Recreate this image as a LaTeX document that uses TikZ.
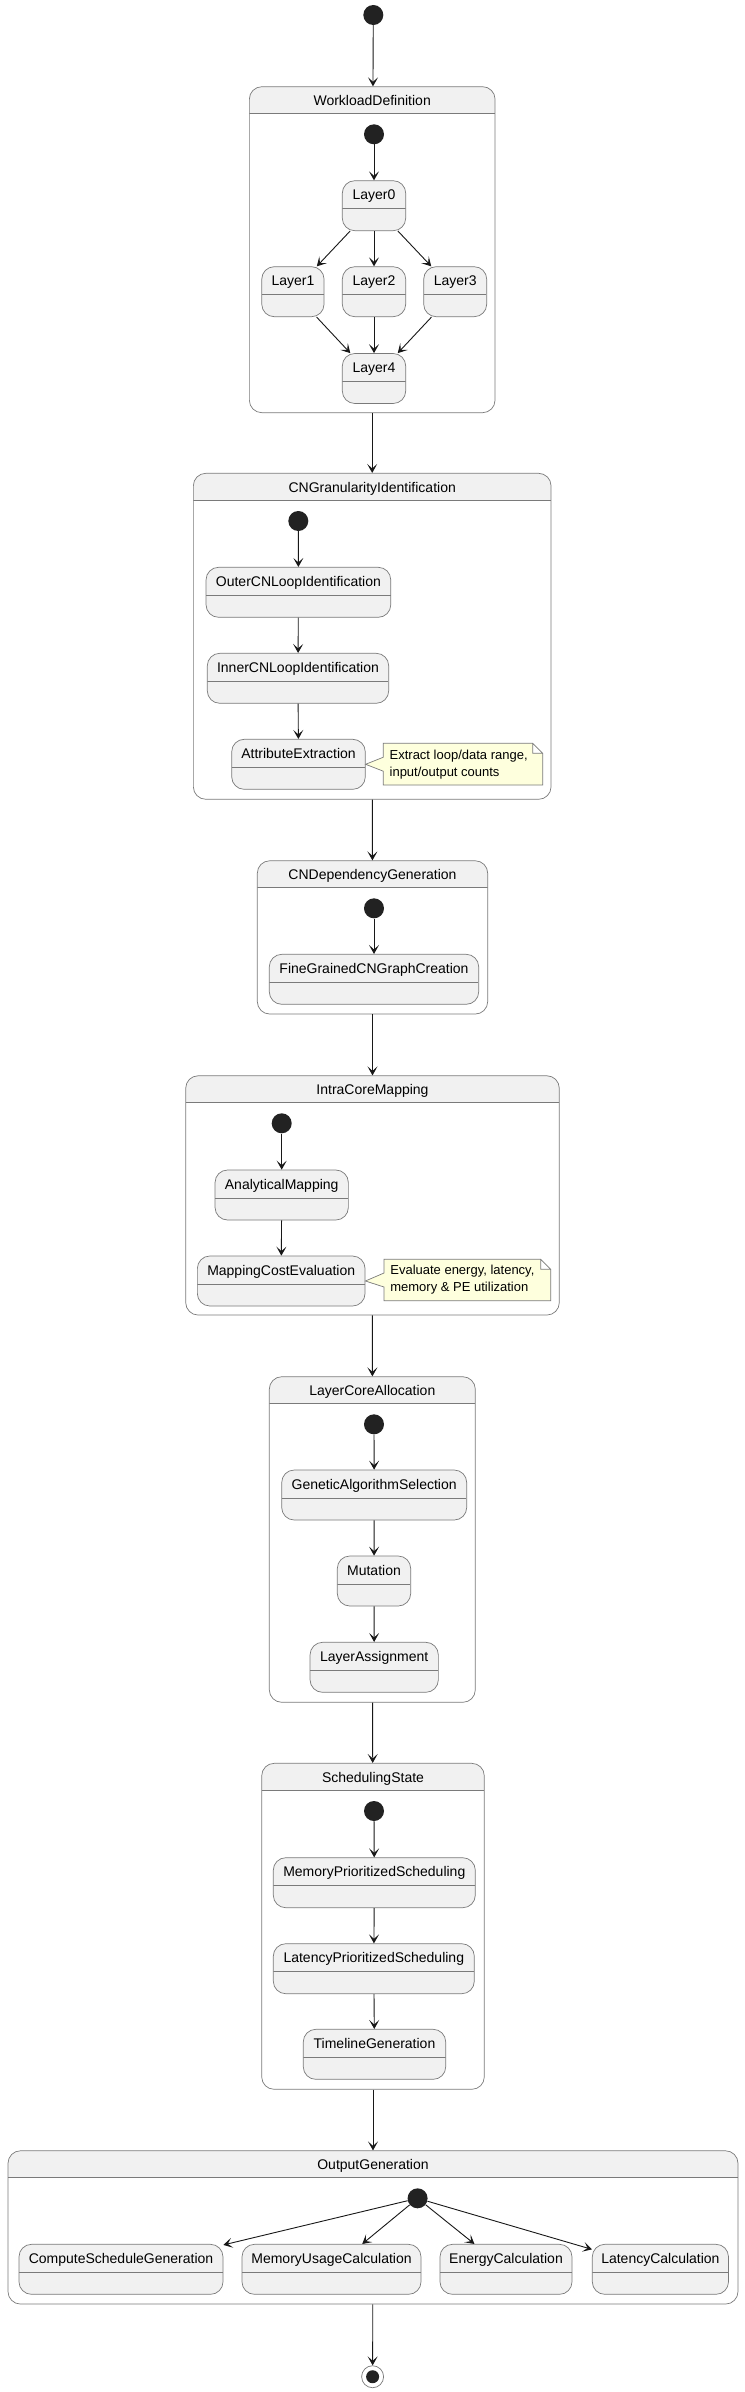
\documentclass[tikz,border=0pt]{standalone}
\usepackage{fontspec}
\setmainfont{Liberation Sans}
\usetikzlibrary{arrows.meta}

\definecolor{statefill}{HTML}{F1F1F1}
\definecolor{linegray}{HTML}{7A7A7A}
\definecolor{arrowcol}{HTML}{181818}
\definecolor{startfill}{HTML}{222222}
\definecolor{notefill}{HTML}{FEFFDD}

\newcommand\statefont{\fontsize{14}{16}\selectfont}
\newcommand\notefont{\fontsize{13}{17}\selectfont}

\tikzset{
	state/.style={draw=linegray, line width=0.7pt, fill=statefill, rounded corners=12.5pt,
		minimum height=50pt, inner sep=0pt, text height=19pt, text depth=31pt, font=\statefont,
		path picture={\draw[linegray, line width=0.7pt] ([yshift=-28pt]path picture bounding box.north west) -- ([yshift=-28pt]path picture bounding box.north east);}},
	group/.style={draw=linegray, line width=0.7pt, fill=white, rounded corners=12.5pt, inner sep=0pt,
		path picture={\fill[statefill, sharp corners] (path picture bounding box.north west) rectangle ([yshift=-26.7pt]path picture bounding box.north east);
			\draw[linegray, line width=0.7pt] ([yshift=-26.7pt]path picture bounding box.north west) -- ([yshift=-26.7pt]path picture bounding box.north east);}},
	grouptitle/.style={anchor=north, minimum height=26.7pt, inner sep=0pt, text height=12.5pt, text depth=1pt, font=\statefont},
	startstate/.style={circle, fill=startfill, minimum size=20pt, inner sep=0pt},
	endstate/.style={circle, draw=linegray, line width=0.7pt, fill=white, minimum size=22pt, inner sep=0pt,
		path picture={\fill[startfill] (path picture bounding box.center) circle (6.5pt);}},
	arr/.style={draw=arrowcol, line width=0.9pt, -{Stealth[length=9pt, width=10pt, inset=4.5pt]}},
	notebox/.style={draw=linegray, line width=0.7pt, fill=notefill},
	notetext/.style={inner sep=0pt, anchor=west, align=left, font=\notefont}
}

\begin{document}
\begin{tikzpicture}[x=1pt, y=-1pt]
		%%%%% START %%%%%
		\useasboundingbox (0,0) rectangle (744,2392);
		
		\node[startstate] (start) at (373.3,15) {};
		
		% workload
		\node[group, minimum width=245.7pt, minimum height=326pt] (wd) at (372.2,249.7) {};
		\node[grouptitle] (wd-title) at (wd.north) {WorkloadDefinition};
		\node[startstate] (wd-start) at (374,134.3) {};
		\node[state, minimum width=63.4pt] (layer0) at (374,205.7) {Layer0};
		\node[state, minimum width=62.3pt] (layer1) at (292.9,291.7) {Layer1};
		\node[state, minimum width=63.4pt] (layer2) at (374,291.7) {Layer2};
		\node[state, minimum width=63pt] (layer3) at (455.2,291.7) {Layer3};
		\node[state, minimum width=63.4pt] (layer4) at (374,378.5) {Layer4};
		\draw[arr] (wd-start) -- (layer0);
		\draw[arr] (layer0) -- (layer1);
		\draw[arr] (layer0) -- (layer2);
		\draw[arr] (layer0) -- (layer3);
		\draw[arr] (layer1) -- (layer4);
		\draw[arr] (layer2) -- (layer4);
		\draw[arr] (layer3) -- (layer4);
		
		% granularity
		\node[group, minimum width=357.7pt, minimum height=326pt] (cng) at (372.2,636.3) {};
		\node[grouptitle] (cng-title) at (cng.north) {CNGranularityIdentification};
		\node[startstate] (cng-start) at (298.3,521) {};
		\node[state, minimum width=184.7pt] (outer) at (298.4,592.3) {OuterCNLoopIdentification};
		\node[state, minimum width=181.4pt] (inner) at (298,678.3) {InnerCNLoopIdentification};
		\node[state, minimum width=133.6pt] (attr) at (298.5,764.3) {AttributeExtraction};
		\draw[arr] (cng-start) -- (outer);
		\draw[arr] (outer) -- (inner);
		\draw[arr] (inner) -- (attr);
		\draw[notebox] (383.3,743.3) -- (532.7,743.3) -- (542.7,753.3) -- (542.7,785) -- (383.3,785)
			-- (383.3,771.2) -- (attr.east) -- (383.3,757.2) -- cycle
			(532.7,743.3) |- (542.7,753.3)
			node[notetext] (attr-note) at (389.3,764.2) {Extract loop/data range,\\input/output counts};
		
		% dependency
		\node[group, minimum width=230.4pt, minimum height=153.3pt] (cnd) at (372.5,937.4) {};
		\node[grouptitle] (cnd-title) at (cnd.north) {CNDependencyGeneration};
		\node[startstate] (cnd-start) at (374,908.3) {};
		\node[state, minimum width=209.4pt] (finegrained) at (374,979.3) {FineGrainedCNGraphCreation};
		\draw[arr] (cnd-start) -- (finegrained);
		
		% intra core
		\node[group, minimum width=373.6pt, minimum height=239.3pt] (icm) at (372.5,1195.4) {};
		\node[grouptitle] (icm-title) at (icm.north) {IntraCoreMapping};
		\node[startstate] (icm-start) at (281.7,1123.3) {};
		\node[state, minimum width=133.3pt] (analytical) at (281.7,1195) {AnalyticalMapping};
		\node[state, minimum width=167.7pt] (mce) at (281.2,1281) {MappingCostEvaluation};
		\draw[arr] (icm-start) -- (analytical);
		\draw[arr] (analytical) -- (mce);
		\draw[notebox] (384,1259.3) -- (540.7,1259.3) -- (550.7,1269.3) -- (550.7,1300.7) -- (384,1300.7)
			-- (384,1287) -- (mce.east) -- (384,1273) -- cycle
			(540.7,1259.3) |- (550.7,1269.3)
			node[notetext] (mce-note) at (390,1280) {Evaluate energy, latency,\\memory \& PE utilization};
		
		% allocation
		\node[group, minimum width=206pt, minimum height=325.6pt] (lca) at (372.3,1539.5) {};
		\node[grouptitle] (lca-title) at (lca.north) {LayerCoreAllocation};
		\node[startstate] (lca-start) at (374,1424.3) {};
		\node[state, minimum width=185pt] (genetic) at (374.2,1495) {GeneticAlgorithmSelection};
		\node[state, minimum width=73.4pt] (mutation) at (374,1581) {Mutation};
		\node[state, minimum width=128.3pt] (assign) at (374.2,1667.3) {LayerAssignment};
		\draw[arr] (lca-start) -- (genetic);
		\draw[arr] (genetic) -- (mutation);
		\draw[arr] (mutation) -- (assign);
		
		% scheduling
		\node[group, minimum width=222.6pt, minimum height=326pt] (sched) at (373,1926.3) {};
		\node[grouptitle] (sched-title) at (sched.north) {SchedulingState};
		\node[startstate] (sched-start) at (374,1811) {};
		\node[state, minimum width=202pt] (memprio) at (374.3,1882.7) {MemoryPrioritizedScheduling};
		\node[state, minimum width=201pt] (latprio) at (373.8,1968.7) {LatencyPrioritizedScheduling};
		\node[state, minimum width=142.4pt] (timeline) at (374.5,2054.3) {TimelineGeneration};
		\draw[arr] (sched-start) -- (memprio);
		\draw[arr] (memprio) -- (latprio);
		\draw[arr] (latprio) -- (timeline);
		
		% output
		\node[group, minimum width=730pt, minimum height=153.3pt] (og) at (373,2227.4) {};
		\node[grouptitle] (og-title) at (og.north) {OutputGeneration};
		\node[startstate] (og-start) at (417.6,2198.3) {};
		\node[state, minimum width=204pt] (compute) at (121,2269.3) {ComputeScheduleGeneration};
		\node[state, minimum width=179pt] (memusage) at (331.5,2269.3) {MemoryUsageCalculation};
		\node[state, minimum width=132pt] (energy) at (506,2269.3) {EnergyCalculation};
		\node[state, minimum width=136.2pt] (latency) at (660.4,2269.3) {LatencyCalculation};
		\draw[arr] (og-start) -- (compute);
		\draw[arr] (og-start) -- (memusage);
		\draw[arr] (og-start) -- (energy);
		\draw[arr] (og-start) -- (latency);
		
		\node[endstate] (end) at (372.6,2376.7) {};
		
		% between composites
		\draw[arr] (start) -- (wd);
		\draw[arr] (wd) -- (cng);
		\draw[arr] (cng) -- (cnd);
		\draw[arr] (cnd) -- (icm);
		\draw[arr] (icm) -- (lca);
		\draw[arr] (lca) -- (sched);
		\draw[arr] (sched) -- (og);
		\draw[arr] (og) -- (end);
		
		%%%%% END %%%%%
	\end{tikzpicture}
\end{document}
